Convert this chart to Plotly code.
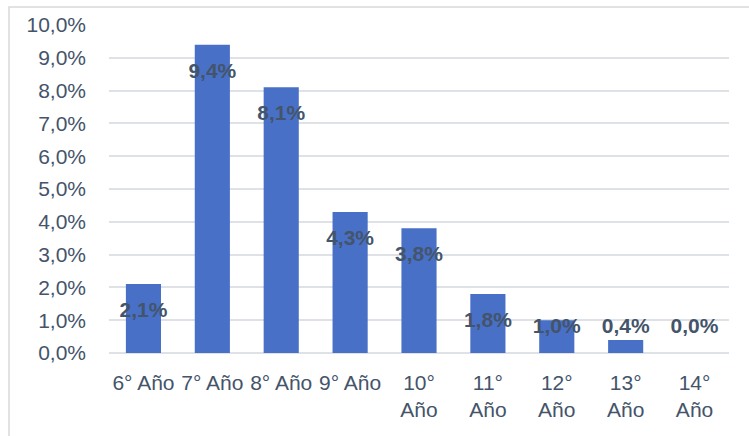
import plotly.graph_objects as go

categories = ["6° Año", "7° Año", "8° Año", "9° Año", "10° Año", "11° Año", "12° Año", "13° Año", "14° Año"]
tick_labels = ["6° Año", "7° Año", "8° Año", "9° Año", "10°<br>Año", "11°<br>Año", "12°<br>Año", "13°<br>Año", "14°<br>Año"]
values = [2.1, 9.4, 8.1, 4.3, 3.8, 1.8, 1.0, 0.4, 0.0]
label_texts = ["2,1%", "9,4%", "8,1%", "4,3%", "3,8%", "1,8%", "1,0%", "0,4%", "0,0%"]

# label placement: inside end of bar, but kept at a minimum height (as in Excel)
label_y = [max(v - 0.85, 0.76) for v in values]

text_color = "#44546A"
font_family = "Liberation Sans, Arial, sans-serif"

fig = go.Figure()
fig.add_trace(go.Bar(
    x=categories, y=values,
    marker=dict(color="#4870C7", line=dict(width=0)),
    hoverinfo="skip",
))
fig.add_trace(go.Scatter(
    x=categories, y=label_y, mode="text", text=label_texts,
    textposition="middle center",
    textfont=dict(family=font_family, size=21, color=text_color, weight="bold"),
    hoverinfo="skip",
))

W, H = 749, 436
ml, mr, mt, mb = 109, 20, 25, 83
pw, ph = W - ml - mr, H - mt - mb
x0 = (9 - ml) / pw
y1 = 1 + (mt - 7) / ph

fig.update_layout(
    width=W, height=H,
    margin=dict(l=ml, r=mr, t=mt, b=mb, pad=0),
    paper_bgcolor="white", plot_bgcolor="white",
    separators=",.",
    showlegend=False,
    bargap=0.49,
    font=dict(family=font_family, size=21, color=text_color),
    xaxis=dict(
        tickmode="array", tickvals=categories, ticktext=tick_labels,
        showgrid=False, showline=False, ticks="", ticklabelstandoff=15,
        tickfont=dict(size=21, color=text_color),
    ),
    yaxis=dict(
        range=[0, 10], dtick=1, tickformat=".1f", ticksuffix="%",
        showgrid=True, gridcolor="#DEE1E6", gridwidth=2,
        zeroline=True, zerolinecolor="#DEE1E6", zerolinewidth=2,
        showline=False, ticks="", ticklabelstandoff=22,
        tickfont=dict(size=21, color=text_color),
    ),
    shapes=[dict(
        type="rect", xref="paper", yref="paper",
        x0=x0, x1=1.2, y0=-0.5, y1=y1,
        line=dict(color="#D9D9D9", width=1.5), fillcolor="rgba(0,0,0,0)",
        layer="below",
    )],
)

fig.write_html("out.html")
